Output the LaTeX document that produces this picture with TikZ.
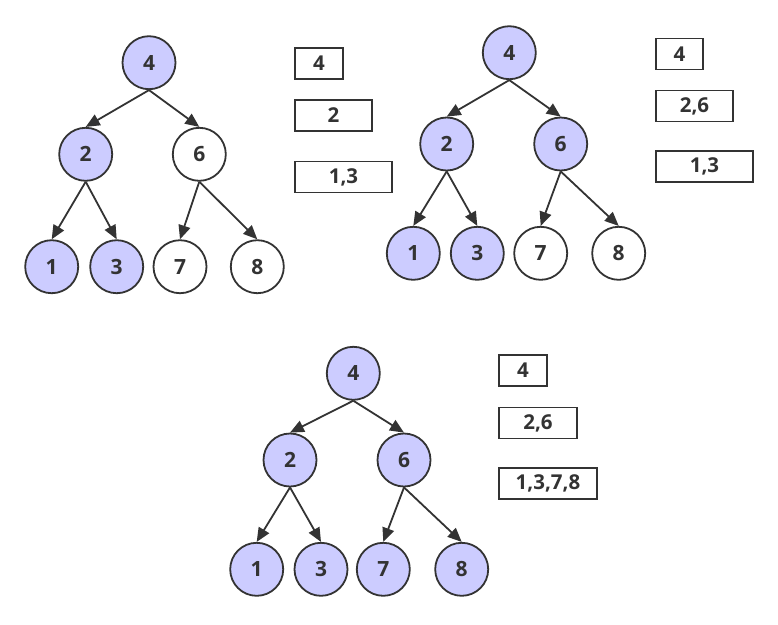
\documentclass[tikz,border=0pt]{standalone}
\usepackage{fontspec}
\setmainfont{Open Sans}
\usetikzlibrary{arrows.meta}
\definecolor{nfill}{HTML}{CCCCFF}
\definecolor{dk}{HTML}{333333}
\tikzset{
  nd/.style={circle, draw=dk, line width=1.8pt, minimum size=53pt, inner sep=0pt,
    text=dk, font=\fontsize{21}{24}\selectfont\bfseries},
  on/.style={nd, fill=nfill},
  off/.style={nd, fill=white},
  lvl/.style={rectangle, draw=dk, line width=1.8pt, minimum height=31pt, inner sep=0pt,
    text=dk, font=\fontsize{20.5}{24}\selectfont\bfseries},
  ed/.style={draw=dk, line width=1.8pt, -{Triangle[length=14pt,width=12pt]}}
}
\begin{document}
\begin{tikzpicture}[x=1pt,y=-1pt]
\useasboundingbox (0,0) rectangle (778,624);
% tree 1
\node[on]  (a4) at (149,62.7) {4};
\node[on]  (a2) at (85.7,154.3) {2};
\node[off] (a6) at (199.3,154.3) {6};
\node[on]  (a1) at (51.7,266.7) {1};
\node[on]  (a3) at (116.7,266.7) {3};
\node[off] (a7) at (180,266.7) {7};
\node[off] (a8) at (257.3,266.7) {8};
\draw[ed] (a4.south) -- (a2.north);
\draw[ed] (a4.south) -- (a6.north);
\draw[ed] (a2.south) -- (a1.north);
\draw[ed] (a2.south) -- (a3.north);
\draw[ed] (a6.south) -- (a7.north);
\draw[ed] (a6.south) -- (a8.north);
\node[lvl, minimum width=48pt] (ab1) at (319,63.5) {4};
\node[lvl, minimum width=77pt] (ab2) at (333.5,115.5) {2};
\node[lvl, minimum width=97pt] (ab3) at (343.5,177) {1,3};
% tree 2
\node[on]  (b4) at (509.3,52.7) {4};
\node[on]  (b2) at (446.7,144) {2};
\node[on]  (b6) at (560.7,144) {6};
\node[on]  (b1) at (413.3,253.3) {1};
\node[on]  (b3) at (477.3,253.3) {3};
\node[off] (b7) at (540.7,253.3) {7};
\node[off] (b8) at (618.7,253.3) {8};
\draw[ed] (b4.south) -- (b2.north);
\draw[ed] (b4.south) -- (b6.north);
\draw[ed] (b2.south) -- (b1.north);
\draw[ed] (b2.south) -- (b3.north);
\draw[ed] (b6.south) -- (b7.north);
\draw[ed] (b6.south) -- (b8.north);
\node[lvl, minimum width=47pt] (bb1) at (679.5,54) {4};
\node[lvl, minimum width=77pt] (bb2) at (694.5,106) {2,6};
\node[lvl, minimum width=97pt] (bb3) at (704.5,166.5) {1,3};
% tree 3
\node[on] (c4) at (353.3,373.3) {4};
\node[on] (c2) at (290,460) {2};
\node[on] (c6) at (404,460) {6};
\node[on] (c1) at (256.7,569.3) {1};
\node[on] (c3) at (321,569.3) {3};
\node[on] (c7) at (383.3,569.3) {7};
\node[on] (c8) at (461.7,569.3) {8};
\draw[ed] (c4.south) -- (c2.north);
\draw[ed] (c4.south) -- (c6.north);
\draw[ed] (c2.south) -- (c1.north);
\draw[ed] (c2.south) -- (c3.north);
\draw[ed] (c6.south) -- (c7.north);
\draw[ed] (c6.south) -- (c8.north);
\node[lvl, minimum width=48pt] (cb1) at (523,370.5) {4};
\node[lvl, minimum width=78pt] (cb2) at (538,423) {2,6};
\node[lvl, minimum width=98pt] (cb3) at (548,483.5) {1,3,7,8};
\end{tikzpicture}
\end{document}
